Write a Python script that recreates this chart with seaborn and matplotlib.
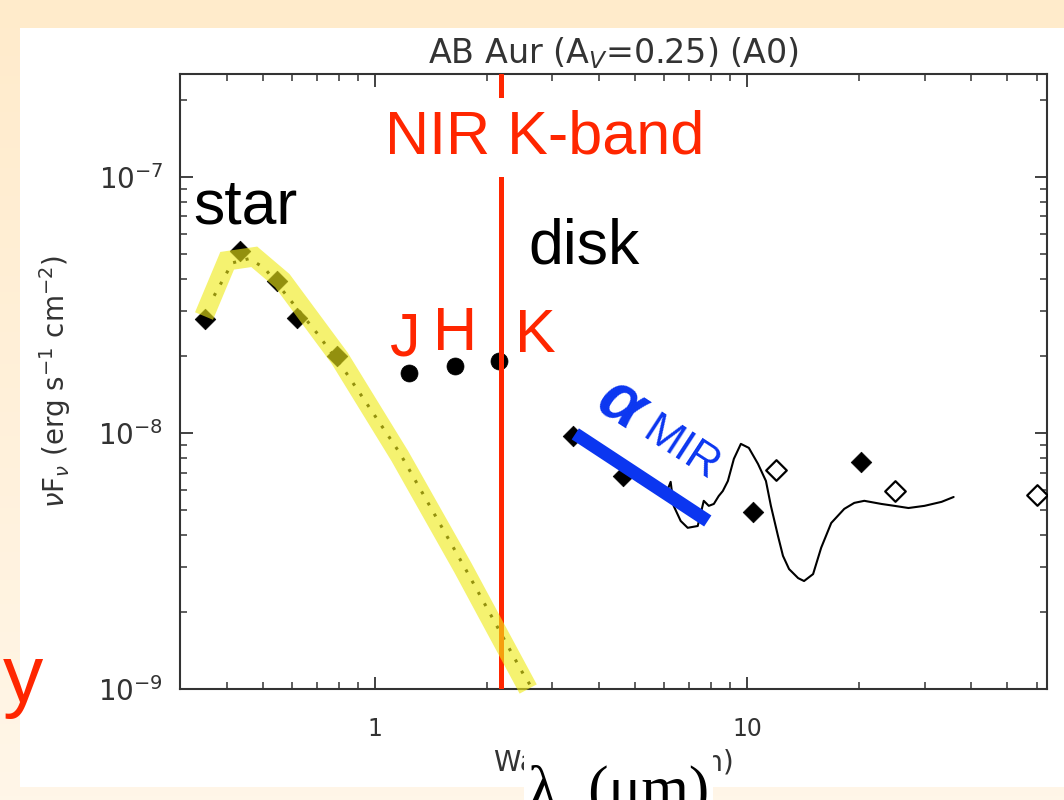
import numpy as np
import pandas as pd
import matplotlib
matplotlib.use("Agg")
import matplotlib.pyplot as plt
import seaborn as sns
from matplotlib.patches import Rectangle

# ---------------- data ----------------
title_text = "AB Aur (A$_V$=0.25) (A0)"
xlabel_text = "Wavelength (μm)"
ylabel_text = r"$\nu$F$_\nu$ (erg s$^{-1}$ cm$^{-2}$)"

opt_wave = [0.35, 0.435, 0.545, 0.62, 0.79]
opt_flux = [2.78e-8, 5.14e-8, 3.93e-8, 2.81e-8, 2.00e-8]

nir_wave = [1.24, 1.64, 2.16]
nir_flux = [1.71e-8, 1.83e-8, 1.91e-8]
nir_bands = ["J", "H", "K"]

mir_wave = [3.42, 4.66, 10.4, 20.2]
mir_flux = [9.7e-9, 6.79e-9, 4.91e-9, 7.7e-9]

iras_wave = [12.0, 25.0, 60.0]
iras_flux = [7.17e-9, 5.93e-9, 5.73e-9]

spec_wave = [5.085, 5.44, 5.79, 6.05, 6.24, 6.357, 6.64, 6.934, 7.378, 7.658,
             7.90, 8.15, 8.40, 8.615, 8.89, 9.226, 9.634, 10.12, 10.71, 11.25,
             11.60, 12.12, 12.50, 12.98, 13.73, 14.24, 15.06, 15.83, 16.85, 18.26,
             19.43, 20.67, 22.97, 24.90, 27.16, 30.00, 33.34, 35.92]
spec_flux = [6.49e-9, 6.26e-9, 5.93e-9, 5.73e-9, 6.44e-9, 5.19e-9, 4.53e-9, 4.26e-9, 4.33e-9, 5.43e-9,
             5.19e-9, 5.28e-9, 5.67e-9, 5.93e-9, 6.49e-9, 7.92e-9, 9.06e-9, 8.74e-9, 7.57e-9, 6.49e-9,
             5.19e-9, 3.96e-9, 3.31e-9, 2.94e-9, 2.71e-9, 2.64e-9, 2.81e-9, 3.56e-9, 4.45e-9, 5.05e-9,
             5.33e-9, 5.43e-9, 5.28e-9, 5.19e-9, 5.09e-9, 5.19e-9, 5.38e-9, 5.62e-9]

model_wave = [0.3705, 0.4143, 0.460, 0.5053, 0.5755, 0.702, 0.840, 1.168, 1.748, 2.506, 2.785]
model_flux = [3.43e-8, 4.61e-8, 4.79e-8, 4.41e-8, 3.49e-8, 2.44e-8, 1.71e-8, 8.35e-9, 2.97e-9, 1.146e-9, 8.97e-10]

highlight_wave = [0.348, 0.4016, 0.4749, 0.565, 0.805, 1.168, 1.727, 2.585]
highlight_flux = [2.86e-8, 4.70e-8, 4.87e-8, 3.93e-8, 1.96e-8, 8.13e-9, 2.97e-9, 1.0e-9]

kband_wave = 2.19

alpha_wave = [3.46, 7.85]
alpha_flux = [9.91e-9, 4.53e-9]

xlim = (0.3, 64.0)
ylim = (1.0e-9, 2.52e-7)
xtick_values = [1, 10]
xtick_labels = ["1", "10"]

# ---------------- style ----------------
sns.set_theme(style="ticks")
plt.rcParams["font.family"] = ["DejaVu Sans"]
plt.rcParams["mathtext.fontset"] = "dejavusans"

W, H = 1064, 800
fig = plt.figure(figsize=(W / 100, H / 100), dpi=100)

def fx(px):
    return px / W

def fy(py):
    return 1 - py / H

# background: peach gradient + white slide panel
bg = fig.add_axes([0, 0, 1, 1], zorder=-10)
top = np.array([255, 235, 203]) / 255
bot = np.array([255, 246, 232]) / 255
t = np.linspace(0, 1, 200)[:, None, None]
grad = top[None, None, :] * (1 - t) + bot[None, None, :] * t
bg.imshow(grad, aspect="auto", extent=[0, 1, 0, 1], origin="upper")
bg.add_patch(Rectangle((fx(20), fy(787)), fx(1064) - fx(20), fy(28) - fy(787),
                       facecolor="white", edgecolor="none"))
bg.set_xlim(0, 1)
bg.set_ylim(0, 1)
bg.axis("off")

ax = fig.add_axes([fx(180), fy(689), fx(1047) - fx(180), fy(74) - fy(689)])
ax.set_facecolor("white")
ax.set_xscale("log")
ax.set_yscale("log")

ink = "#333333"

# stellar photosphere model (dotted)
sns.lineplot(x=model_wave, y=model_flux, ax=ax, sort=False, color="black",
             linestyle=(0, (1, 3.2)), linewidth=2.2, zorder=2)

# spectrum
sns.lineplot(x=spec_wave, y=spec_flux, ax=ax, sort=False, color="black",
             linewidth=1.5, zorder=3)

# photometry
sns.scatterplot(x=opt_wave, y=opt_flux, ax=ax, marker="D", s=110, color="black",
                edgecolor="black", linewidth=0.5, zorder=4)
sns.scatterplot(x=mir_wave, y=mir_flux, ax=ax, marker="D", s=110, color="black",
                edgecolor="black", linewidth=0.5, zorder=4)
sns.scatterplot(x=iras_wave, y=iras_flux, ax=ax, marker="D", s=110, facecolor="white",
                edgecolor="black", linewidth=1.6, zorder=4)
sns.scatterplot(x=nir_wave, y=nir_flux, ax=ax, marker="o", s=150, color="black",
                edgecolor="black", linewidth=0.5, zorder=4)

# K band line
ax.axvline(kband_wave, color="#FF2600", linewidth=3.6, zorder=5)

# yellow highlight of star
ax.plot(highlight_wave, highlight_flux, color="#EFEA18", alpha=0.62, linewidth=14,
        solid_joinstyle="miter", solid_capstyle="butt", zorder=6, clip_on=False)

# alpha_MIR bar
ax.plot(alpha_wave, alpha_flux, color="#0B36F0", linewidth=9.5,
        solid_capstyle="butt", zorder=7)

ax.set_xlim(*xlim)
ax.set_ylim(*ylim)
ax.set_xticks(xtick_values)
ax.set_xticklabels(xtick_labels)

for side in ["top", "right", "bottom", "left"]:
    ax.spines[side].set_visible(True)
    ax.spines[side].set_color(ink)
    ax.spines[side].set_linewidth(1.5)

ax.tick_params(which="both", direction="in", top=True, right=True, colors=ink,
               labelcolor=ink)
ax.tick_params(which="major", length=9, width=1.3)
ax.tick_params(which="minor", length=5, width=1.1)
ax.tick_params(axis="y", which="major", labelsize=20, pad=12)
ax.tick_params(axis="x", which="major", labelsize=17, pad=20)

ax.set_title(title_text, fontsize=24, color=ink, pad=8)
ax.set_xlabel(xlabel_text, fontsize=20, color=ink, labelpad=6)
ax.set_ylabel(ylabel_text, fontsize=20, color=ink, labelpad=18)

# ---------------- slide annotations ----------------
red = "#FF2600"
ann = ["Liberation Sans", "DejaVu Sans"]
fig.text(fx(385), fy(153), "NIR K-band", color=red, fontsize=44, family=ann,
         ha="left", va="baseline",
         bbox=dict(boxstyle="square,pad=0.18", facecolor="white", edgecolor="none"))
fig.text(fx(193), fy(224), "star", color="black", fontsize=45, family=ann,
         ha="left", va="baseline")
fig.text(fx(528), fy(264), "disk", color="black", fontsize=45, family=ann,
         ha="left", va="baseline")
for band, px, py in zip(nir_bands, [390, 433, 515], [355, 350, 352]):
    fig.text(fx(px), fy(py), band, color=red, fontsize=44, family=ann,
             ha="left", va="baseline")
fig.text(fx(3), fy(702), "y", color=red, fontsize=58, family=ann,
         ha="left", va="baseline")
fig.text(fx(620), fy(405), "α", color="#0B36F0", fontsize=50, family=ann,
         fontweight="bold", style="italic", rotation=-33, ha="center", va="center",
         rotation_mode="anchor")
fig.text(fx(681), fy(450), "MIR", color="#0B36F0", fontsize=32, family=ann,
         rotation=-33, ha="center", va="center", rotation_mode="anchor")

# white box with overlay axis label
fig.patches.append(Rectangle((fx(524), fy(800)), fx(713) - fx(524), fy(745) - fy(800),
                             transform=fig.transFigure, facecolor="white",
                             edgecolor="none", zorder=2))
fig.text(fx(528), fy(808), "λ  (μm)", color="black", fontsize=44,
         family=["Liberation Serif", "DejaVu Serif"], ha="left", va="baseline", zorder=4)

fig.savefig("out.png", dpi=100)
